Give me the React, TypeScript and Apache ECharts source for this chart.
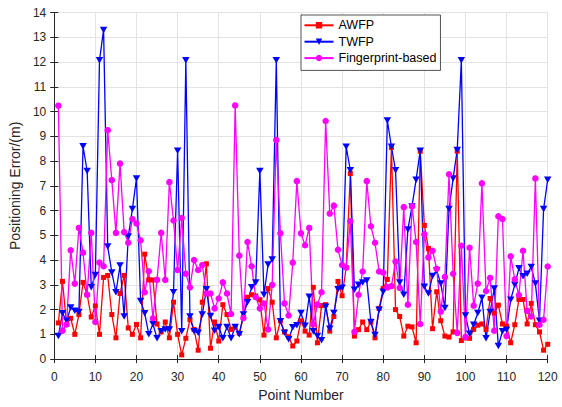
import React, { useEffect, useRef } from "react";
import * as echarts from "echarts";

const seriesNames = ["AWFP", "TWFP", "Fingerprint-based"];

const awfp = [
  1.46, 3.14, 1.4, 1.65, 1.0, 1.8, 3.1, 2.6, 1.7, 2.15,
  1.0, 3.3, 3.38, 1.8, 0.86, 2.65, 3.38, 1.26, 1.0, 1.4,
  0.86, 4.24, 3.2, 3.2, 1.42, 1.1, 1.5, 0.86, 2.3, 1.0,
  0.17, 0.84, 1.6, 1.2, 0.36, 2.3, 3.85, 0.44, 1.5, 0.73,
  2.2, 1.8, 1.2, 1.3, 1.05, 1.7, 2.5, 2.6, 2.55, 2.4,
  0.97, 2.85, 2.3, 0.86, 1.55, 1.1, 0.9, 0.53, 0.73, 1.55,
  1.13, 0.97, 2.9, 0.66, 2.16, 2.2, 1.13, 1.72, 3.14, 2.56,
  3.7, 7.5, 0.93, 1.19, 1.5, 1.19, 1.5, 0.86, 2.05, 2.85,
  3.22, 8.55, 2.0, 1.72, 0.93, 1.33, 1.3, 0.66, 8.4, 5.4,
  4.47, 1.23, 2.72, 1.55, 0.93, 0.89, 1.1, 8.4, 0.75, 0.86,
  0.84, 1.2, 1.37, 1.42, 1.2, 2.45, 1.86, 2.18, 1.42, 1.33,
  0.66, 1.39, 2.41, 2.41, 1.42, 2.25, 1.39, 1.1, 0.36, 0.6,
];

const twfp = [
  0.93, 1.85, 1.55, 2.08, 1.95, 1.9, 8.6, 7.6, 2.9, 3.4,
  12.07, 13.3, 4.55, 3.5, 2.7, 3.78, 1.72, 4.95, 6.06, 7.3,
  2.35, 1.85, 1.0, 1.42, 0.84, 1.13, 1.2, 1.2, 2.7, 8.42,
  1.13, 12.07, 1.72, 1.13, 1.06, 1.8, 2.82, 1.74, 1.15, 1.3,
  0.84, 1.3, 0.84, 1.3, 1.0, 1.8, 2.3, 2.9, 3.1, 7.6,
  2.6, 3.82, 4.02, 12.07, 1.53, 1.06, 0.8, 1.29, 1.37, 1.86,
  1.35, 2.52, 1.13, 0.93, 0.76, 2.12, 1.23, 1.86, 2.82, 2.88,
  8.58, 7.63, 2.8, 3.0, 3.1, 3.18, 1.5, 0.97, 1.99, 2.72,
  9.64, 8.58, 7.63, 3.09, 2.6, 5.24, 6.17, 7.25, 8.42, 2.92,
  2.65, 3.36, 3.58, 3.05, 2.06, 6.06, 7.3, 8.45, 12.07, 1.76,
  1.02, 1.39, 1.86, 2.48, 0.84, 1.9, 2.85, 0.53, 1.13, 1.19,
  2.4, 3.0, 3.67, 3.35, 3.45, 3.72, 3.05, 1.55, 6.06, 7.25,
];

const fingerprint = [
  10.24, 1.15, 1.4, 4.4, 3.05, 5.3, 4.3, 2.6, 5.1, 1.5,
  3.9, 3.75, 9.25, 7.23, 5.1, 7.9, 5.13, 4.7, 5.66, 5.48,
  4.8, 2.7, 3.55, 1.65, 3.2, 5.1, 3.2, 7.15, 5.6, 3.6,
  5.7, 3.45, 2.9, 4.0, 3.6, 3.8, 2.65, 2.65, 2.05, 2.45,
  3.1, 2.65, 1.82, 10.25, 4.18, 1.66, 4.73, 3.75, 2.5, 2.05,
  2.25, 1.2, 3.0, 8.85, 5.08, 2.25, 1.76, 3.9, 7.19, 5.08,
  4.6, 5.3, 1.4, 2.2, 2.7, 9.62, 5.88, 6.2, 4.42, 3.8,
  3.7, 5.57, 1.1, 2.6, 3.54, 7.19, 5.37, 4.7, 3.54, 3.5,
  2.9, 2.95, 3.94, 2.88, 6.14, 2.2, 6.17, 4.73, 1.42, 5.04,
  4.11, 4.38, 3.65, 1.92, 3.32, 7.47, 3.45, 1.06, 4.58, 0.89,
  4.5, 2.16, 3.05, 7.1, 2.75, 3.28, 1.15, 5.77, 5.66, 0.93,
  4.15, 3.22, 2.59, 4.38, 1.95, 1.72, 7.3, 1.39, 1.59, 3.74,
];

const xTicks = { min: 0, max: 120, interval: 10 };
const yTicks = { min: 0, max: 14, interval: 1 };

const FONT = "'Liberation Sans', Arial, Helvetica, sans-serif";
const AXIS_COLOR = "#262626";
const GRID_COLOR = "#e3e3e3";

function toPairs(values: number[]) {
  return values.map((v, i) => [i + 1, v]);
}

export default function App() {
  const ref = useRef<HTMLDivElement>(null);

  useEffect(() => {
    if (!ref.current) return;
    const chart = echarts.init(ref.current, null, { renderer: "svg" });

    const baseX = {
      type: "value" as const,
      min: xTicks.min,
      max: xTicks.max,
      interval: xTicks.interval,
    };
    const baseY = {
      type: "value" as const,
      min: yTicks.min,
      max: yTicks.max,
      interval: yTicks.interval,
    };

    const lineStyleCommon = { width: 1.3 };

    chart.setOption({
      animation: false,
      backgroundColor: "#ffffff",
      textStyle: { fontFamily: FONT },
      grid: {
        left: 53.5,
        right: 14.3,
        top: 12.6,
        bottom: 43.7,
        containLabel: false,
      },
      legend: {
        orient: "vertical",
        left: 301,
        top: 15,
        itemWidth: 29,
        itemHeight: 8,
        itemGap: 2.4,
        padding: [3.3, 4, 5.3, 2.5],
        backgroundColor: "#ffffff",
        borderColor: AXIS_COLOR,
        borderWidth: 0.8,
        textStyle: {
          fontFamily: FONT,
          fontSize: 12.5,
          lineHeight: 14,
          color: "#000000",
        },
        data: seriesNames,
      },
      xAxis: [
        {
          ...baseX,
          position: "bottom",
          name: "Point Number",
          nameLocation: "middle",
          nameGap: 24,
          nameTextStyle: { fontFamily: FONT, fontSize: 14, color: AXIS_COLOR },
          axisLine: { show: true, lineStyle: { color: AXIS_COLOR, width: 1 } },
          axisTick: { show: true, inside: true, length: 4, lineStyle: { color: AXIS_COLOR } },
          axisLabel: { fontFamily: FONT, fontSize: 12, color: AXIS_COLOR, margin: 12 },
          splitLine: { show: true, lineStyle: { color: GRID_COLOR, width: 1 } },
        },
        {
          ...baseX,
          position: "top",
          axisLine: { show: true, lineStyle: { color: AXIS_COLOR, width: 1 } },
          axisTick: { show: true, inside: true, length: 4, lineStyle: { color: AXIS_COLOR } },
          axisLabel: { show: false },
          splitLine: { show: false },
        },
      ],
      yAxis: [
        {
          ...baseY,
          position: "left",
          name: "Positioning Error/(m)",
          nameLocation: "middle",
          nameGap: 21,
          nameTextStyle: { fontFamily: FONT, fontSize: 14, color: AXIS_COLOR },
          axisLine: { show: true, lineStyle: { color: AXIS_COLOR, width: 1 } },
          axisTick: { show: true, inside: true, length: 4, lineStyle: { color: AXIS_COLOR } },
          axisLabel: { fontFamily: FONT, fontSize: 12, color: AXIS_COLOR, margin: 8 },
          splitLine: { show: true, lineStyle: { color: GRID_COLOR, width: 1 } },
        },
        {
          ...baseY,
          position: "right",
          axisLine: { show: true, lineStyle: { color: AXIS_COLOR, width: 1 } },
          axisTick: { show: true, inside: true, length: 4, lineStyle: { color: AXIS_COLOR } },
          axisLabel: { show: false },
          splitLine: { show: false },
        },
      ],
      series: [
        {
          name: seriesNames[0],
          type: "line",
          xAxisIndex: 0,
          yAxisIndex: 0,
          data: toPairs(awfp),
          symbol: "rect",
          symbolSize: 5,
          showAllSymbol: true,
          color: "#ff0000",
          lineStyle: { ...lineStyleCommon, color: "#ff0000" },
          itemStyle: { color: "#ff0000" },
        },
        {
          name: seriesNames[1],
          type: "line",
          xAxisIndex: 0,
          yAxisIndex: 0,
          data: toPairs(twfp),
          symbol: "path://M0,0L10,0L5,8.66Z",
          symbolSize: [7.5, 6.5],
          showAllSymbol: true,
          color: "#0000ff",
          lineStyle: { ...lineStyleCommon, color: "#0000ff" },
          itemStyle: { color: "#0000ff" },
        },
        {
          name: seriesNames[2],
          type: "line",
          xAxisIndex: 0,
          yAxisIndex: 0,
          data: toPairs(fingerprint),
          symbol: "circle",
          symbolSize: 6.5,
          showAllSymbol: true,
          color: "#ff00ff",
          lineStyle: { ...lineStyleCommon, color: "#ff00ff" },
          itemStyle: { color: "#ff00ff" },
        },
      ],
    });

    return () => {
      chart.dispose();
    };
  }, []);

  return (
    <div
      ref={ref}
      style={{ position: "absolute", left: 0, top: 0, width: 562, height: 407 }}
    />
  );
}
